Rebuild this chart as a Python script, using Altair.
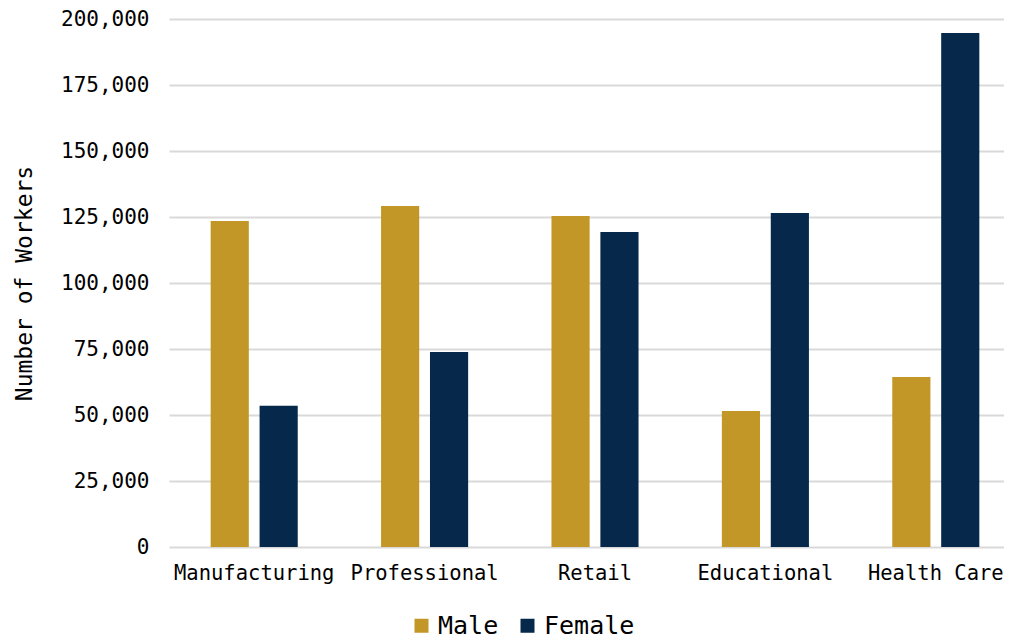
import altair as alt
import pandas as pd

categories = ["Manufacturing", "Professional", "Retail", "Educational", "Health Care"]
genders = ["Male", "Female"]
male = [123500, 129200, 125400, 51500, 64400]
female = [53500, 73900, 119300, 126500, 194700]
y_ticks = [0, 25000, 50000, 75000, 100000, 125000, 150000, 175000, 200000]
colors = ["#C39628", "#06294B"]

rows = []
for c, m, f in zip(categories, male, female):
    rows.append({"Industry": c, "Gender": "Male", "Workers": m})
    rows.append({"Industry": c, "Gender": "Female", "Workers": f})
df = pd.DataFrame(rows)

FONT = "DejaVu Sans Mono"

chart = alt.Chart(df).mark_bar().encode(
    x=alt.X("Industry:N", sort=categories, title=None,
            scale=alt.Scale(paddingInner=0.489, paddingOuter=0.2445, range=[1, 853]),
            axis=alt.Axis(labelAngle=0, ticks=False, domain=False, grid=False,
                          labelPadding=16, labelFontSize=20.5, labelFont=FONT,
                          labelColor="#000000")),
    xOffset=alt.XOffset("Gender:N", sort=genders,
                        scale=alt.Scale(paddingInner=0.22, paddingOuter=0)),
    y=alt.Y("Workers:Q", title="Number of Workers",
            scale=alt.Scale(domain=[0, 200000], nice=False),
            axis=alt.Axis(values=y_ticks, format=",.0f", ticks=False, domain=False,
                          labelPadding=19, labelFontSize=21, labelFont=FONT,
                          labelColor="#000000", gridColor="#d9d9d9", gridWidth=2,
                          titleFont=FONT, titleFontSize=23, titleFontWeight="normal",
                          titleColor="#000000", titlePadding=24)),
    color=alt.Color("Gender:N", sort=genders,
                    scale=alt.Scale(domain=genders, range=colors),
                    legend=alt.Legend(title=None, orient="none", direction="horizontal",
                                      legendX=241, legendY=594, symbolType="square",
                                      symbolSize=196, symbolStrokeWidth=0,
                                      labelFont=FONT, labelFontSize=25,
                                      labelColor="#000000", labelOffset=4,
                                      columnPadding=16)),
).properties(
    width=836, height=528,
    autosize=alt.AutoSizeParams(type="none"),
    padding={"left": 160, "top": 11, "right": 0, "bottom": 95},
).configure_view(stroke=None)

chart.save("out.html", embed_options={"renderer": "svg", "actions": False})
